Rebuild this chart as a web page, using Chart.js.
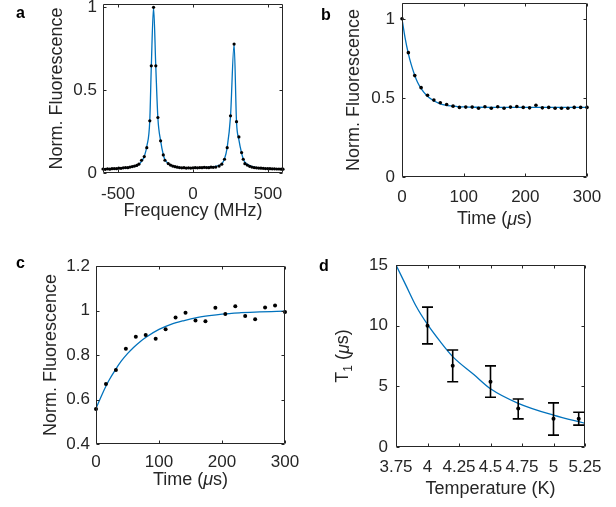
<!DOCTYPE html>
<html lang="en">
<head>
<meta charset="UTF-8">
<title>Fluorescence and T1 panels</title>
<script src="https://cdn.jsdelivr.net/npm/chart.js"></script>
<style>
  body { margin: 0; background: #fff; }
  #fig { position: relative; width: 616px; height: 507px; overflow: hidden; }
  #fig canvas { position: absolute; left: 0; top: 0; }
  .lbl { position: absolute; font: bold 16px "Liberation Sans", Arial, sans-serif; line-height: 16px; color: #000; }
</style>
</head>
<body>
<div id="fig">
  <canvas id="chartA" width="616" height="507"></canvas>
  <canvas id="chartB" width="616" height="507"></canvas>
  <canvas id="chartC" width="616" height="507"></canvas>
  <canvas id="chartD" width="616" height="507"></canvas>
  <div class="lbl" style="left:16px;top:5px">a</div>
  <div class="lbl" style="left:321px;top:7px">b</div>
  <div class="lbl" style="left:16px;top:255px">c</div>
  <div class="lbl" style="left:319px;top:258px">d</div>
</div>
<script>
// ---- panel a: spectrum ----
const freqA = [-600, -585, -570, -555, -540, -525, -510, -495, -480, -465, -450, -435, -420, -405, -390, -375,
  -361, -343, -325, -308, -288, -278, -263, -248, -234, -216, -198, -187, -165,
  -150, -135, -120, -105, -90, -75, -60, -45, -30, -15, 0, 15, 30, 45, 60, 75, 90, 105, 120, 135, 152, 174, 192,
  210, 228, 250, 274, 290, 306, 324, 335, 346,
  362, 378, 393, 408, 423, 438, 453, 468, 483, 498, 513, 528, 543, 558, 573, 588, 600];
const sigA = [0.024, 0.022, 0.025, 0.023, 0.026, 0.027, 0.026, 0.029, 0.028, 0.031, 0.033, 0.032, 0.036, 0.039, 0.042, 0.046,
  0.053, 0.077, 0.099, 0.153, 0.315, 0.647, 1.0, 0.647, 0.335, 0.194, 0.109, 0.077, 0.057,
  0.048, 0.042, 0.038, 0.035, 0.033, 0.031, 0.032, 0.030, 0.031, 0.030, 0.031, 0.032, 0.031, 0.033, 0.032, 0.034, 0.033, 0.032, 0.035, 0.034, 0.036, 0.042, 0.053,
  0.083, 0.153, 0.345, 0.778, 0.310, 0.218, 0.123, 0.083, 0.056,
  0.048, 0.040, 0.036, 0.033, 0.031, 0.030, 0.029, 0.028, 0.027, 0.027, 0.026, 0.025, 0.025, 0.024, 0.024, 0.023, 0.023];
const fitA = [0.024, 0.024, 0.025, 0.025, 0.026, 0.027, 0.027, 0.028, 0.029, 0.030, 0.031, 0.033, 0.035, 0.038, 0.041, 0.045,
  0.052, 0.070, 0.100, 0.160, 0.320, 0.640, 1.0, 0.640, 0.330, 0.195, 0.110, 0.080, 0.058,
  0.048, 0.042, 0.038, 0.035, 0.033, 0.032, 0.031, 0.031, 0.030, 0.030, 0.030, 0.031, 0.031, 0.032, 0.032, 0.033, 0.034, 0.035, 0.036, 0.038, 0.040, 0.046, 0.056,
  0.085, 0.155, 0.340, 0.778, 0.310, 0.200, 0.120, 0.085, 0.065,
  0.052, 0.044, 0.039, 0.035, 0.032, 0.030, 0.029, 0.028, 0.027, 0.026, 0.026, 0.025, 0.025, 0.024, 0.024, 0.023, 0.023];
const ticksAx = [-500, 0, 500];
const ticksAy = [0, 0.5, 1];

// ---- panel b: decay ----
const timeB = [0, 10.3, 20.7, 31.0, 41.4, 51.7, 62.1, 72.4, 82.8, 93.1, 103.4, 113.8, 124.1, 134.5, 144.8,
  155.2, 165.5, 175.9, 186.2, 196.6, 206.9, 217.2, 227.6, 237.9, 248.3, 258.6, 269.0, 279.3, 289.7, 300];
const sigB = [1.0, 0.786, 0.641, 0.565, 0.517, 0.486, 0.469, 0.458, 0.448, 0.440, 0.442, 0.442, 0.435, 0.444, 0.435,
  0.444, 0.435, 0.442, 0.446, 0.440, 0.437, 0.454, 0.437, 0.440, 0.435, 0.435, 0.435, 0.440, 0.440, 0.440];
const fitTimeB = [0, 5, 10, 15, 20, 25, 30, 40, 50, 60, 70, 80, 90, 100, 120, 150, 200, 250, 300];
const fitB = [1.0, 0.88, 0.785, 0.71, 0.65, 0.60, 0.565, 0.515, 0.485, 0.466, 0.455, 0.449, 0.445, 0.443, 0.441, 0.440, 0.440, 0.440, 0.440];
const ticksBx = [0, 100, 200, 300];
const ticksBy = [0, 0.5, 1];

// ---- panel c: recovery ----
const timeC = [0, 15.8, 31.6, 47.4, 63.2, 78.9, 94.7, 110.5, 126.3, 142.1, 157.9, 173.7, 189.5, 205.3, 221.1,
  236.8, 252.6, 268.4, 284.2, 300];
const sigC = [0.557, 0.670, 0.733, 0.828, 0.882, 0.890, 0.873, 0.916, 0.969, 0.990, 0.955, 0.952, 1.012, 0.984, 1.019,
  0.975, 0.961, 1.013, 1.022, 0.993];
const fitTimeC = [0, 10, 20, 30, 40, 50, 60, 70, 80, 100, 120, 140, 160, 180, 200, 230, 260, 300];
const fitC = [0.56, 0.625, 0.683, 0.73, 0.772, 0.806, 0.835, 0.86, 0.881, 0.915, 0.939, 0.955, 0.968, 0.977, 0.984, 0.99, 0.994, 0.997];
const ticksCx = [0, 100, 200, 300];
const ticksCy = [0.4, 0.6, 0.8, 1, 1.2];

// ---- panel d: T1 vs temperature ----
const tempD = [4.0, 4.2, 4.5, 4.72, 5.0, 5.2];
const t1D = [10.0, 6.70, 5.38, 3.17, 2.32, 2.32];
const errLowD = [8.5, 5.38, 4.1, 2.32, 0.98, 1.8];
const errHighD = [11.53, 8.0, 6.69, 3.96, 3.64, 2.87];
const fitTempD = [3.75, 3.83, 3.91, 4.0, 4.1, 4.2, 4.37, 4.5, 4.72, 5.0, 5.25];
const fitD = [15, 13.3, 11.6, 10.1, 8.7, 7.45, 5.95, 4.8, 3.6, 2.62, 1.95];
const ticksDx = [3.75, 4, 4.25, 4.5, 4.75, 5, 5.25];
const ticksDy = [0, 5, 10, 15];

const TEXT = '#262626';
const FONT = '"Liberation Sans", Arial, sans-serif';
const BLUE = '#0072BD';
const W = 616, H = 507;

const pts = (xs, ys) => xs.map((x, i) => ({ x: x, y: ys[i] }));

// box with inward ticks on all four sides, like the original
const axisBox = {
  id: 'axisBox',
  afterDatasetsDraw(chart) {
    const ctx = chart.ctx, a = chart.chartArea;
    const x = chart.scales.x, y = chart.scales.y;
    const L = Math.round(a.left) + 0.5, R = Math.round(a.right) - 0.5;
    const T = Math.round(a.top) + 0.5, B = Math.round(a.bottom) - 0.5;
    ctx.save();
    ctx.strokeStyle = TEXT;
    ctx.lineWidth = 1;
    ctx.beginPath();
    ctx.rect(L, T, R - L, B - T);
    x.ticks.forEach(t => {
      const p = Math.round(x.getPixelForValue(t.value)) + 0.5;
      ctx.moveTo(p, B); ctx.lineTo(p, B - 3);
      ctx.moveTo(p, T); ctx.lineTo(p, T + 3);
    });
    y.ticks.forEach(t => {
      const p = Math.round(y.getPixelForValue(t.value)) + 0.5;
      ctx.moveTo(L, p); ctx.lineTo(L + 3, p);
      ctx.moveTo(R, p); ctx.lineTo(R - 3, p);
    });
    ctx.stroke();
    ctx.restore();
  }
};

// axis titles with italic mu and subscripts
function drawRich(ctx, parts, cx, cy, rot) {
  const fontOf = p => (p.italic ? 'italic ' : '') + (p.sub ? 12 : 18) + 'px ' + FONT;
  let w = 0;
  parts.forEach(p => { ctx.font = fontOf(p); w += ctx.measureText(p.t).width; });
  ctx.save();
  ctx.translate(cx, cy);
  ctx.rotate(rot);
  ctx.fillStyle = TEXT;
  ctx.textBaseline = 'middle';
  ctx.textAlign = 'left';
  let px = -w / 2;
  parts.forEach(p => {
    ctx.font = fontOf(p);
    ctx.fillText(p.t, px, p.sub ? 5 : 0);
    px += ctx.measureText(p.t).width;
  });
  ctx.restore();
}
const richTitles = {
  id: 'richTitles',
  afterDraw(chart, args, o) {
    const { ctx, chartArea: a } = chart;
    drawRich(ctx, o.x, (a.left + a.right) / 2, a.bottom + o.xOff, 0);
    drawRich(ctx, o.y, a.left - o.yOff, (a.top + a.bottom) / 2, -Math.PI / 2);
  }
};

// vertical error bars with caps for panel d
const errorBars = {
  id: 'errorBars',
  afterDatasetsDraw(chart) {
    const { ctx, scales: { x, y } } = chart;
    ctx.save();
    ctx.strokeStyle = '#000';
    ctx.lineWidth = 1.6;
    ctx.beginPath();
    tempD.forEach((t, i) => {
      const px = x.getPixelForValue(t);
      const lo = y.getPixelForValue(errLowD[i]);
      const hi = y.getPixelForValue(errHighD[i]);
      ctx.moveTo(px, lo); ctx.lineTo(px, hi);
      ctx.moveTo(px - 5.5, lo); ctx.lineTo(px + 5.5, lo);
      ctx.moveTo(px - 5.5, hi); ctx.lineTo(px + 5.5, hi);
    });
    ctx.stroke();
    ctx.restore();
  }
};

function axis(min, max, ticks, size, pad) {
  return {
    type: 'linear', min: min, max: max,
    grid: { display: false, drawTicks: false, tickLength: 0 },
    border: { display: false },
    ticks: {
      color: TEXT, font: { family: FONT, size: 17 }, padding: pad,
      autoSkip: false, maxRotation: 0, minRotation: 0,
      callback: v => String(v)
    },
    afterBuildTicks: s => { s.ticks = ticks.map(v => ({ value: v })); },
    afterFit: s => {
      if (s.isHorizontal()) s.height = size; else s.width = size;
      s.paddingTop = s.paddingBottom = s.paddingLeft = s.paddingRight = 0;
    }
  };
}

function makePanel(id, box, xs, ys, datasets, titles, extra) {
  const yw = 60, xh = 50;
  return new Chart(document.getElementById(id), {
    type: 'scatter',
    data: { datasets: datasets },
    options: {
      responsive: false,
      animation: false,
      events: [],
      layout: {
        autoPadding: false,
        padding: { left: box.l - yw, top: box.t, right: W - box.r, bottom: H - box.b - xh }
      },
      plugins: { legend: { display: false }, tooltip: { enabled: false }, richTitles: titles },
      scales: {
        x: axis(xs.min, xs.max, xs.ticks, xh, xs.pad),
        y: axis(ys.min, ys.max, ys.ticks, yw, ys.pad)
      }
    },
    plugins: [richTitles, axisBox].concat(extra || [])
  });
}

function dots(data, r) {
  return { data: data, showLine: false, pointRadius: r, pointBackgroundColor: '#000', pointBorderWidth: 0, clip: false };
}
function fitLine(data, w) {
  return { data: data, showLine: true, pointRadius: 0, borderColor: BLUE, borderWidth: w, cubicInterpolationMode: 'monotone' };
}

const normFl = [{ t: 'Norm. Fluorescence' }];
const timeMu = [{ t: 'Time (' }, { t: '\u03bc', italic: true }, { t: 's)' }];

makePanel('chartA', { l: 103, t: 4, r: 283, b: 173 },
  { min: -600, max: 600, ticks: ticksAx, pad: 11 },
  { min: 0, max: 1.02, ticks: ticksAy, pad: 6 },
  [dots(pts(freqA, sigA), 1.6), fitLine(pts(freqA, fitA), 1.3)],
  { x: [{ t: 'Frequency (MHz)' }], y: normFl, xOff: 38, yOff: 46 });

makePanel('chartB', { l: 402, t: 3, r: 587, b: 177 },
  { min: 0, max: 300, ticks: ticksBx, pad: 10 },
  { min: 0, max: 1.1, ticks: ticksBy, pad: 7 },
  [dots(pts(timeB, sigB), 1.8), fitLine(pts(fitTimeB, fitB), 1.3)],
  { x: timeMu, y: normFl, xOff: 42.5, yOff: 47.5 });

makePanel('chartC', { l: 96, t: 266, r: 285, b: 444 },
  { min: 0, max: 300, ticks: ticksCx, pad: 8 },
  { min: 0.4, max: 1.2, ticks: ticksCy, pad: 6 },
  [dots(pts(timeC, sigC), 2), fitLine(pts(fitTimeC, fitC), 1.3)],
  { x: timeMu, y: normFl, xOff: 36, yOff: 44.5 });

makePanel('chartD', { l: 396, t: 265, r: 585, b: 447 },
  { min: 3.75, max: 5.25, ticks: ticksDx, pad: 10 },
  { min: 0, max: 15, ticks: ticksDy, pad: 8 },
  [dots(pts(tempD, t1D), 2), fitLine(pts(fitTempD, fitD), 1.3)],
  { x: [{ t: 'Temperature (K)' }], y: [{ t: 'T' }, { t: '1', sub: true }, { t: ' (' }, { t: '\u03bc', italic: true }, { t: 's)' }], xOff: 42.5, yOff: 52.5 },
  [errorBars]);
</script>
</body>
</html>
